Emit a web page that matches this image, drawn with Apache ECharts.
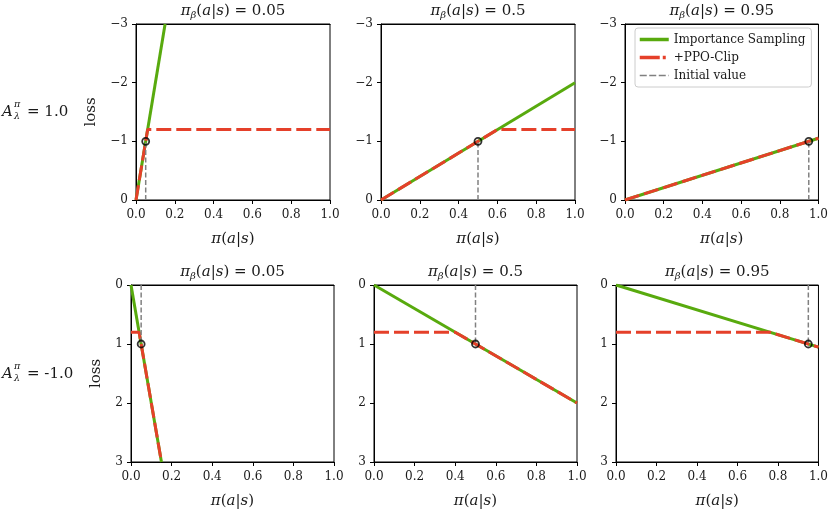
<!DOCTYPE html>
<html><head><meta charset="utf-8">
<script src="https://cdn.jsdelivr.net/npm/echarts@6/dist/echarts.min.js"></script>
<style>html,body{margin:0;padding:0;background:#fff}#c{width:831px;height:511px}</style>
</head><body><div id="c"></div>
<script>
// ---------- data ----------
const behaviorProbs = [0.05, 0.5, 0.95];
const behaviorLabels = ['0.05', '0.5', '0.95'];
const advantageLabels = ['1.0', '-1.0'];
const seriesNames = ['Importance Sampling', '+PPO-Clip', 'Initial value'];
const xRange = [0, 1];
const topYRange = [-3, 0];
const bottomYRange = [0, 3];

// Row 1 (A = 1.0): loss vs pi(a|s)
const isTop = [
  [[0, 0], [0.15, -3]],
  [[0, 0], [1, -2]],
  [[0, 0], [1, -1.0526]]
];
const clipTop = [
  [[0, 0], [0.06, -1.2], [1, -1.2]],
  [[0, 0], [0.6, -1.2], [1, -1.2]],
  [[0, 0], [1, -1.0526]]
];
const initTop = [
  [[0.05, 0], [0.05, -1]],
  [[0.5, 0], [0.5, -1]],
  [[0.95, 0], [0.95, -1]]
];
const pointTop = [[0.05, -1], [0.5, -1], [0.95, -1]];

// Row 2 (A = -1.0)
const isBottom = [
  [[0, 0], [0.15, 3]],
  [[0, 0], [1, 2]],
  [[0, 0], [1, 1.0526]]
];
const clipBottom = [
  [[0, 0.8], [0.04, 0.8], [0.15, 3]],
  [[0, 0.8], [0.4, 0.8], [1, 2]],
  [[0, 0.8], [0.76, 0.8], [1, 1.0526]]
];
const initBottom = [
  [[0.05, 0], [0.05, 1]],
  [[0.5, 0], [0.5, 1]],
  [[0.95, 0], [0.95, 1]]
];
const pointBottom = [[0.05, 1], [0.5, 1], [0.95, 1]];

// ---------- style ----------
const FONT = '"DejaVu Serif", "Liberation Serif", serif';
const GREEN = '#58aa0e';
const RED = '#e5402a';
const GREY = '#808080';
const TXT = '#1a1a1a';
const gridPos = [
  {left: 136, top: 24, width: 194, height: 176},
  {left: 381, top: 24, width: 194, height: 176},
  {left: 625, top: 24, width: 195, height: 176},
  {left: 131, top: 285, width: 203, height: 177},
  {left: 374, top: 285, width: 203, height: 177},
  {left: 616, top: 285, width: 204, height: 177}
];

const richMath = (size, lh) => ({
  i: {fontStyle: 'italic', fontFamily: FONT, fontSize: size, color: TXT, lineHeight: lh},
  sub: {fontStyle: 'italic', fontFamily: FONT, fontSize: Math.round(size * 0.68), color: TXT, lineHeight: Math.round(lh * 0.5), verticalAlign: 'bottom'}
});

const grids = [], xAxes = [], yAxes = [], series = [];
for (let i = 0; i < 6; i++) {
  const row = Math.floor(i / 3), col = i % 3;
  grids.push(Object.assign({show: true, borderColor: '#000', borderWidth: 1, backgroundColor: 'transparent', containLabel: false}, gridPos[i]));
  // bottom x axis
  xAxes.push({
    type: 'value', gridIndex: i, position: 'bottom', min: xRange[0], max: xRange[1], interval: 0.2,
    axisLine: {show: true, onZero: false, lineStyle: {color: '#000', width: 1}},
    axisTick: {show: true, length: 4, lineStyle: {color: '#000', width: 1}},
    axisLabel: {margin: 9, formatter: v => v.toFixed(1), fontFamily: FONT, fontSize: 12, color: TXT},
    splitLine: {show: false},
    name: '{i|π}({i|a}|{i|s})', nameLocation: 'middle', nameGap: 30, nameMoveOverlap: false,
    nameTextStyle: {fontFamily: FONT, fontSize: 15, color: TXT, lineHeight: 18, rich: richMath(15, 18)}
  });
  // top x axis used as panel title + top spine
  xAxes.push({
    type: 'value', gridIndex: i, position: 'top', min: xRange[0], max: xRange[1],
    axisLine: {show: true, onZero: false, lineStyle: {color: '#000', width: 1}},
    axisTick: {show: false}, axisLabel: {show: false}, splitLine: {show: false},
    name: '{i|π}{sub|β}({i|a}|{i|s}) = ' + behaviorLabels[col],
    nameLocation: 'middle', nameGap: 4, nameMoveOverlap: false,
    nameTextStyle: {fontFamily: FONT, fontSize: 15, color: TXT, lineHeight: 18, rich: richMath(15, 18)}
  });
  const yr = row === 0 ? topYRange : bottomYRange;
  yAxes.push({
    type: 'value', gridIndex: i, min: yr[0], max: yr[1], interval: 1, inverse: true,
    axisLine: {show: true, onZero: false, lineStyle: {color: '#000', width: 1}},
    axisTick: {show: true, length: 4, lineStyle: {color: '#000', width: 1}},
    axisLabel: {margin: 8, formatter: v => (v < 0 ? '\u2212' + (-v) : String(v)), fontFamily: FONT, fontSize: 12, color: TXT},
    splitLine: {show: false},
    name: col === 0 ? 'loss' : '', nameLocation: 'middle', nameRotate: 90, nameMoveOverlap: false,
    nameGap: row === 0 ? 37 : 27,
    nameTextStyle: {fontFamily: FONT, fontSize: 15, color: TXT}
  });
  const isData = row === 0 ? isTop[col] : isBottom[col];
  const clipData = row === 0 ? clipTop[col] : clipBottom[col];
  const initData = row === 0 ? initTop[col] : initBottom[col];
  const ptData = row === 0 ? [pointTop[col]] : [pointBottom[col]];
  series.push({
    type: 'line', name: seriesNames[0], xAxisIndex: 2 * i, yAxisIndex: i, data: isData,
    symbol: 'none', clip: true, z: 2,
    lineStyle: {color: GREEN, width: 3}, itemStyle: {color: GREEN}
  });
  series.push({
    type: 'line', name: seriesNames[1], xAxisIndex: 2 * i, yAxisIndex: i, data: clipData,
    symbol: 'none', clip: true, z: 3,
    lineStyle: {color: RED, width: 3, type: [15, 5]}, itemStyle: {color: RED}
  });
  series.push({
    type: 'line', name: seriesNames[2], xAxisIndex: 2 * i, yAxisIndex: i, data: initData,
    symbol: 'none', clip: true, z: 4,
    lineStyle: {color: GREY, width: 1.5, type: [5, 2.5]}, itemStyle: {color: GREY}
  });
  series.push({
    type: 'scatter', name: 'initial point', xAxisIndex: 2 * i, yAxisIndex: i, data: ptData,
    symbol: 'circle', symbolSize: 7, z: 5,
    itemStyle: {color: 'rgba(0,0,0,0)', borderColor: '#000', borderWidth: 1.8}
  });
}

// row labels A^pi_lambda
const graphic = [];
const rowCenters = [112, 374];
advantageLabels.forEach((lab, r) => {
  const cy = rowCenters[r];
  graphic.push({type: 'text', x: 2, y: cy, style: {text: 'A', fontFamily: FONT, fontStyle: 'italic', fontSize: 15, fill: TXT, verticalAlign: 'middle'}});
  graphic.push({type: 'text', x: 14, y: cy - 7, style: {text: 'π', fontFamily: FONT, fontStyle: 'italic', fontSize: 9.5, fill: TXT, verticalAlign: 'middle'}});
  graphic.push({type: 'text', x: 14, y: cy + 5, style: {text: 'λ', fontFamily: FONT, fontStyle: 'italic', fontSize: 9.5, fill: TXT, verticalAlign: 'middle'}});
  graphic.push({type: 'text', x: 27, y: cy, style: {text: '= ' + lab, fontFamily: FONT, fontSize: 15, fill: TXT, verticalAlign: 'middle'}});
});

const chart = echarts.init(document.getElementById('c'), null, {renderer: 'canvas'});
chart.setOption({
  animation: false,
  backgroundColor: '#fff',
  grid: grids,
  xAxis: xAxes,
  yAxis: yAxes,
  series: series,
  graphic: graphic,
  legend: {
    orient: 'vertical', left: 635, top: 28,
    data: [
      {name: seriesNames[0], lineStyle: {color: GREEN, width: 3.5, type: 'solid'}},
      {name: seriesNames[1], lineStyle: {color: RED, width: 3.5, type: [20, 3, 3, 3]}},
      {name: seriesNames[2], lineStyle: {color: GREY, width: 1.5, type: [7, 2.5]}}
    ],
    itemWidth: 29, itemHeight: 10, itemGap: 5,
    itemStyle: {color: 'rgba(0,0,0,0)', borderWidth: 0, opacity: 0},
    textStyle: {fontFamily: FONT, fontSize: 12, color: TXT, lineHeight: 13},
    backgroundColor: '#fff', borderColor: '#cccccc', borderWidth: 1, borderRadius: 3,
    padding: [5, 6, 5, 3], selectedMode: false
  }
});
</script></body></html>
